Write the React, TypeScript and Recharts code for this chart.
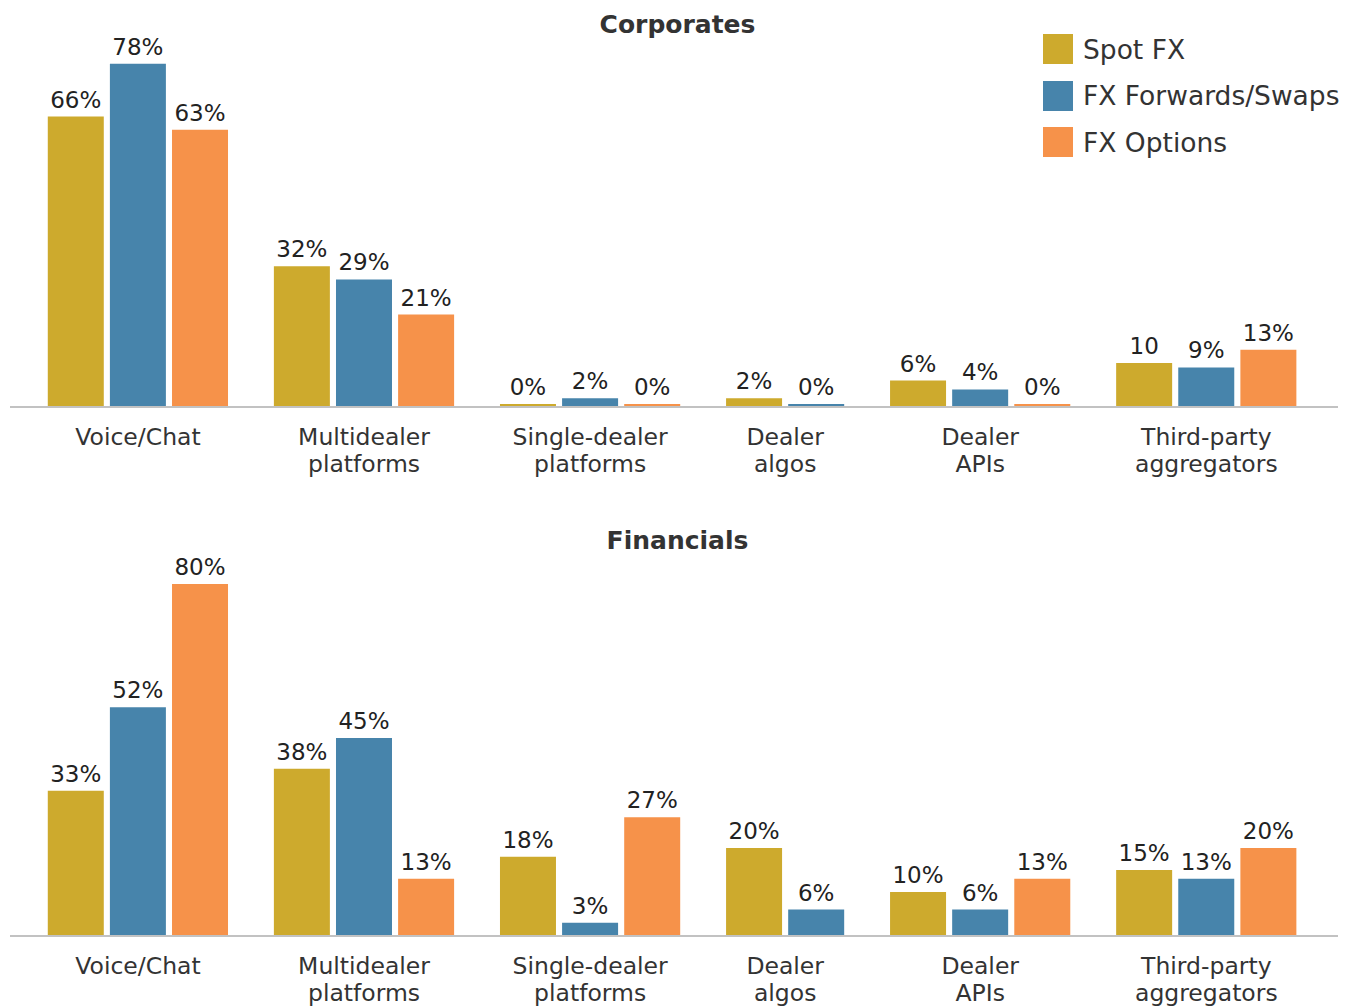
import React from 'react';
import { BarChart, Bar, XAxis, YAxis, Cell, LabelList } from 'recharts';

const categoryLines = [
  ['Voice/Chat'],
  ['Multidealer', 'platforms'],
  ['Single-dealer', 'platforms'],
  ['Dealer', 'algos'],
  ['Dealer', 'APIs'],
  ['Third-party', 'aggregators'],
];
const seriesNames = ['Spot FX', 'FX Forwards/Swaps', 'FX Options'];
const seriesColors = ['#CDAA2D', '#4784AB', '#F6924A'];

// null = no bar drawn for that category
const corporatesSpot = [66, 32, 0, 2, 6, 10];
const corporatesForwards = [78, 29, 2, 0, 4, 9];
const corporatesOptions = [63, 21, 0, null, 0, 13];
// the source prints this one label without the % sign: [series, category]
const corporatesNoPercent = [[0, 5]];

const financialsSpot = [33, 38, 18, 20, 10, 15];
const financialsForwards = [52, 45, 3, 6, 6, 13];
const financialsOptions = [80, 13, 27, null, 13, 20];
const financialsNoPercent: number[][] = [];

const FONT = '"DejaVu Sans", sans-serif';
const GROUP_GAP = 0.64; // extra space between groups, in bar slots

type Row = { pos: number; value: number; series: number; label: string };

const buildPanel = (series: (number | null)[][], noPercent: number[][]) => {
  const rows: Row[] = [];
  const ticks: number[] = [];
  let pos = 0;
  categoryLines.forEach((_, ci) => {
    const start = pos;
    series.forEach((vals, si) => {
      const v = vals[ci];
      if (v === null || v === undefined) return;
      const plain = noPercent.some(([s, c]) => s === si && c === ci);
      rows.push({ pos, value: v, series: si, label: plain ? `${v}` : `${v}%` });
      pos += 1;
    });
    ticks.push((start + pos - 1) / 2);
    pos += GROUP_GAP;
  });
  return { rows, ticks };
};

const corporates = buildPanel([corporatesSpot, corporatesForwards, corporatesOptions], corporatesNoPercent);
const financials = buildPanel([financialsSpot, financialsForwards, financialsOptions], financialsNoPercent);

const makeTick = (ticks: number[]) => (props: any) => {
  const { x, y, payload } = props;
  const idx = ticks.findIndex((t) => Math.abs(t - payload.value) < 0.001);
  const lines = categoryLines[idx] || [];
  return (
    <g>
      {lines.map((l, i) => (
        <text key={i} x={x} y={y + 38 + i * 27} textAnchor="middle" fill="#333" fontSize={23.5} fontFamily={FONT}>
          {l}
        </text>
      ))}
    </g>
  );
};

const ValueLabel = (props: any) => {
  const { x, y, width, value } = props;
  if (value == null) return null;
  return (
    <text x={x + width / 2} y={y - 9} textAnchor="middle" fill="#222" fontSize={23} fontFamily={FONT}>
      {value}
    </text>
  );
};

const Panel = ({ data, ticks, height, top }: { data: Row[]; ticks: number[]; height: number; top: number }) => (
  <BarChart width={1355} height={height} data={data} margin={{ top, right: 17, bottom: 20, left: 10 }}>
    <XAxis
      type="number"
      dataKey="pos"
      domain={[-1.06, 20.32]}
      allowDataOverflow
      ticks={ticks}
      interval={0}
      tickLine={false}
      tickSize={0}
      tickMargin={0}
      height={70}
      axisLine={{ stroke: '#c2c2c2', strokeWidth: 2 }}
      tick={makeTick(ticks)}
    />
    <YAxis hide domain={[0, 80]} />
    <Bar dataKey="value" barSize={56} isAnimationActive={false} minPointSize={(v: any) => (v === 0 ? 3 : 0)}>
      {data.map((r, i) => (
        <Cell key={i} fill={seriesColors[r.series]} />
      ))}
      <LabelList dataKey="label" content={<ValueLabel />} />
    </Bar>
  </BarChart>
);

const titleStyle: React.CSSProperties = {
  position: 'absolute',
  left: 0,
  width: 1355,
  textAlign: 'center',
  fontFamily: FONT,
  fontWeight: 700,
  fontSize: 25,
  lineHeight: '30px',
  color: '#333',
};

const App = () => {
  return (
    <div
      style={{ position: 'absolute', left: 0, top: 0, width: 1355, height: 1007, background: '#fff', overflow: 'hidden' }}
    >
      <div style={{ position: 'absolute', left: 0, top: 0 }}>
        <Panel data={corporates.rows} ticks={corporates.ticks} height={497} top={55} />
      </div>
      <div style={{ position: 'absolute', left: 0, top: 500 }}>
        <Panel data={financials.rows} ticks={financials.ticks} height={526} top={84} />
      </div>
      <div style={{ ...titleStyle, top: 10 }}>Corporates</div>
      <div style={{ ...titleStyle, top: 526 }}>Financials</div>
      <div style={{ position: 'absolute', left: 1043, top: 34, fontFamily: FONT, fontSize: 26.5, color: '#333' }}>
        {seriesNames.map((name, i) => (
          <div key={name} style={{ display: 'flex', alignItems: 'center', height: 30, marginBottom: 16.5 }}>
            <div style={{ width: 30, height: 30, background: seriesColors[i], marginRight: 10 }} />
            <span style={{ whiteSpace: 'nowrap' }}>{name}</span>
          </div>
        ))}
      </div>
    </div>
  );
};

export default App;
